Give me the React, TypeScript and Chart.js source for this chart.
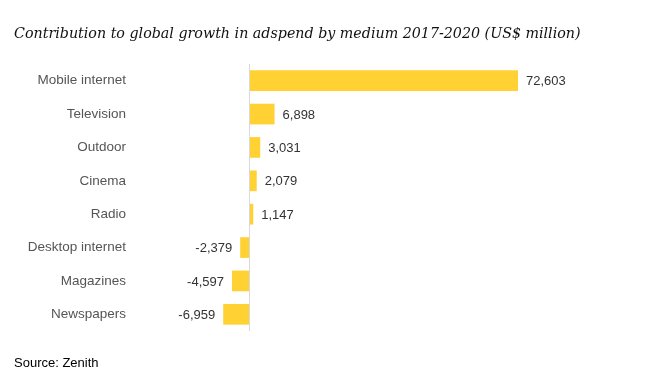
import React, { useEffect, useRef } from "react";
import { Chart, registerables } from "chart.js";

Chart.register(...registerables);

const categories = [
  "Mobile internet",
  "Television",
  "Outdoor",
  "Cinema",
  "Radio",
  "Desktop internet",
  "Magazines",
  "Newspapers",
];
const values = [72603, 6898, 3031, 2079, 1147, -2379, -4597, -6959];
const titleText = "Contribution to global growth in adspend by medium 2017-2020 (US$ million)";
const sourceText = "Source: Zenith";

const BAR_COLOR = "#FFD133";

const fmt = (v: number) => {
  const s = Math.abs(v).toLocaleString("en-US");
  return (v < 0 ? "-" : "") + s;
};

const overlayPlugin = {
  id: "overlay",
  afterDatasetsDraw(chart: any) {
    const ctx = chart.ctx;
    const xs = chart.scales.x;
    const area = chart.chartArea;
    const zx = Math.round(xs.getPixelForValue(0)) + 0.5;
    ctx.save();
    ctx.strokeStyle = "#D9D9D9";
    ctx.lineWidth = 1;
    ctx.beginPath();
    ctx.moveTo(zx, area.top);
    ctx.lineTo(zx, area.bottom);
    ctx.stroke();

    const meta = chart.getDatasetMeta(0);
    ctx.font = "13px 'Liberation Sans', Arial, sans-serif";
    ctx.fillStyle = "#333333";
    ctx.textBaseline = "middle";
    meta.data.forEach((el: any, i: number) => {
      const v = values[i];
      if (v >= 0) {
        ctx.textAlign = "left";
        ctx.fillText(fmt(v), el.x + 8, el.y + 1);
      } else {
        ctx.textAlign = "right";
        ctx.fillText(fmt(v), el.x - 8, el.y + 1);
      }
    });

    ctx.fillStyle = "#111111";
    ctx.textAlign = "left";
    ctx.textBaseline = "alphabetic";
    ctx.font = "italic 14.25px 'DejaVu Serif', serif";
    ctx.fillText(titleText, 14, 38);
    ctx.font = "13px 'Liberation Sans', Arial, sans-serif";
    ctx.fillStyle = "#000000";
    ctx.fillText(sourceText, 14, 367);
    ctx.restore();
  },
};

export default function App() {
  const ref = useRef<HTMLCanvasElement>(null);
  useEffect(() => {
    document.body.style.margin = "0";
    const chart = new Chart(ref.current!, {
      type: "bar",
      data: {
        labels: categories,
        datasets: [
          {
            data: values,
            backgroundColor: BAR_COLOR,
            borderWidth: 0,
            categoryPercentage: 0.62,
            barPercentage: 1,
          },
        ],
      },
      options: {
        indexAxis: "y",
        animation: false,
        responsive: false,
        layout: { padding: { top: 64, bottom: 50, left: 0, right: 50 } },
        plugins: { legend: { display: false }, tooltip: { enabled: false } },
        scales: {
          x: {
            min: -32120,
            max: 94740,
            display: false,
            grid: { display: false },
          },
          y: {
            grid: { display: false, drawTicks: false },
            border: { display: false },
            ticks: {
              color: "#555555",
              padding: 4,
              font: { family: "'Liberation Sans', Arial, sans-serif", size: 13.5 },
            },
            afterFit: (scale: any) => {
              scale.width = 130;
            },
          },
        },
      },
      plugins: [overlayPlugin],
    });
    return () => chart.destroy();
  }, []);
  return (
    <div style={{ width: 650, height: 381 }}>
      <canvas ref={ref} width={650} height={381} style={{ display: "block" }} />
    </div>
  );
}
